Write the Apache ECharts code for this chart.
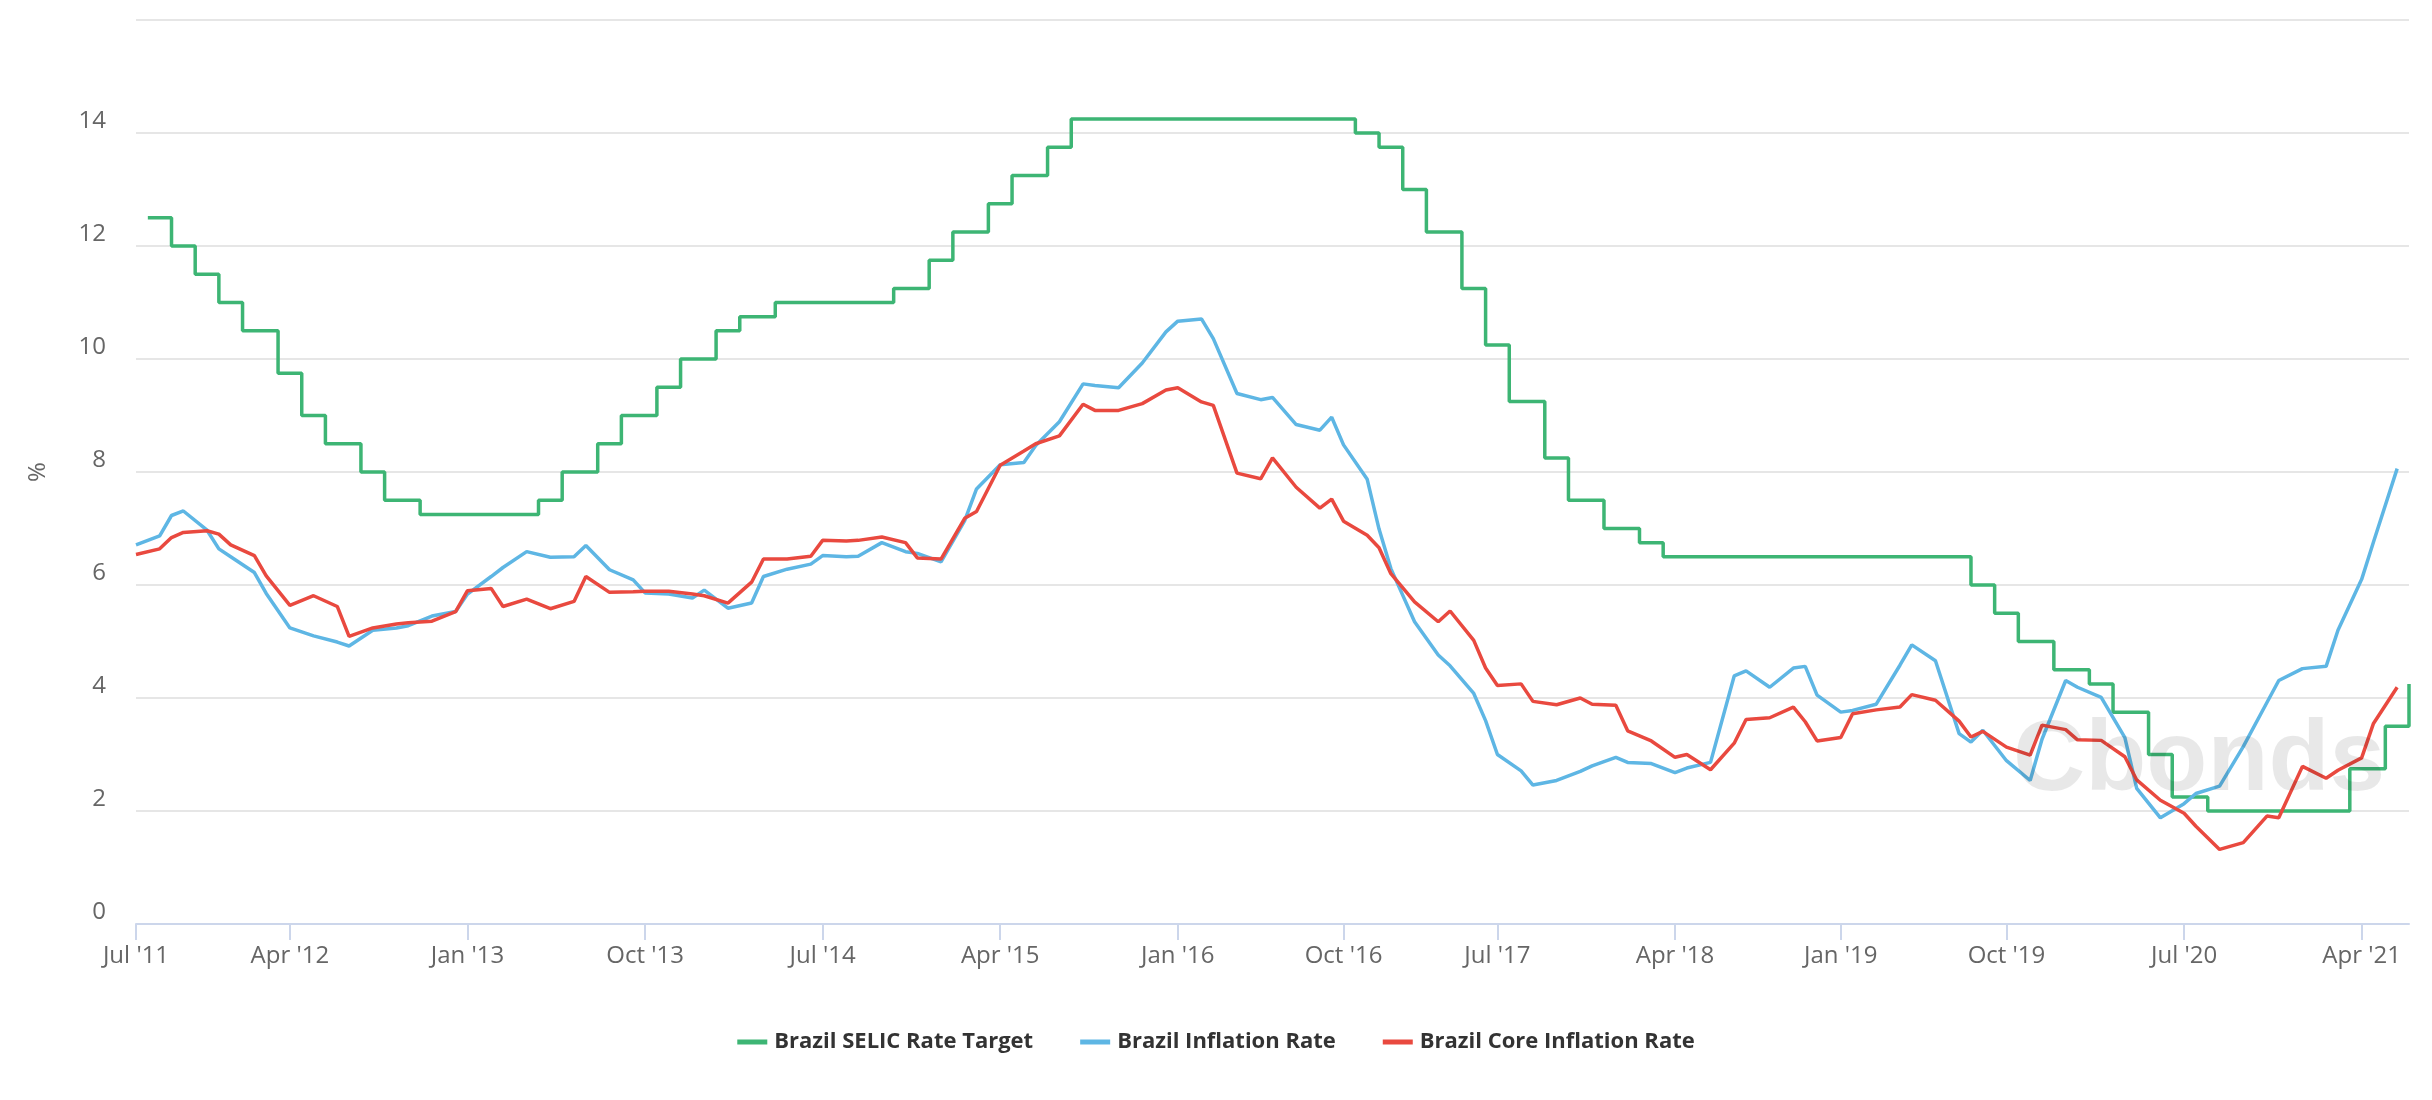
<!DOCTYPE html>
<html>
<head>
<meta charset="utf-8">
<script src="https://cdn.jsdelivr.net/npm/echarts@6/dist/echarts.min.js"></script>
<style>
html,body{margin:0;padding:0;background:#fff;}
#chart{width:2432px;height:1100px;}
</style>
</head>
<body>
<div id="chart"></div>
<script>
// ---- DATA ----
// Monthly series start with June 2011; each month's value is dated at the month end.
const monthStart = [2011, 6];

const inflation = [
  6.71, 6.87, 7.23, 7.31, 6.97, 6.64, 6.50,
  6.22, 5.85, 5.24, 5.10, 4.99, 4.92, 5.20, 5.24, 5.28, 5.45, 5.53, 5.84,
  6.15, 6.31, 6.59, 6.49, 6.50, 6.70, 6.27, 6.09, 5.86, 5.84, 5.77, 5.91,
  5.59, 5.68, 6.15, 6.28, 6.37, 6.52, 6.50, 6.51, 6.75, 6.59, 6.56, 6.41,
  7.14, 7.70, 8.13, 8.17, 8.47, 8.89, 9.56, 9.53, 9.49, 9.93, 10.48, 10.67,
  10.71, 10.36, 9.39, 9.28, 9.32, 8.84, 8.74, 8.97, 8.48, 7.87, 6.99, 6.29,
  5.35, 4.76, 4.57, 4.08, 3.60, 3.00, 2.71, 2.46, 2.54, 2.70, 2.80, 2.95,
  2.86, 2.84, 2.68, 2.76, 2.86, 4.39, 4.48, 4.19, 4.53, 4.56, 4.05, 3.75,
  3.78, 3.89, 4.58, 4.94, 4.66, 3.37, 3.22, 3.43, 2.89, 2.54, 3.27, 4.31,
  4.19, 4.01, 3.30, 2.40, 1.88, 2.13, 2.31, 2.44, 3.14, 3.92, 4.31, 4.52,
  4.56, 5.20, 6.10, 6.76, 8.06
];

const coreInflation = [
  6.54, 6.64, 6.84, 6.93, 6.96, 6.90, 6.71,
  6.52, 6.16, 5.64, 5.81, 5.62, 5.09, 5.24, 5.31, 5.33, 5.36, 5.53, 5.90,
  5.94, 5.62, 5.75, 5.58, 5.71, 6.15, 5.87, 5.88, 5.89, 5.89, 5.84, 5.81,
  5.68, 6.05, 6.46, 6.46, 6.51, 6.79, 6.78, 6.79, 6.85, 6.75, 6.48, 6.46,
  7.18, 7.30, 8.12, 8.37, 8.50, 8.64, 9.20, 9.09, 9.09, 9.21, 9.45, 9.49,
  9.24, 9.18, 7.98, 7.88, 8.25, 7.73, 7.36, 7.52, 7.13, 6.88, 6.66, 6.20,
  5.70, 5.35, 5.54, 5.02, 4.53, 4.22, 4.25, 3.94, 3.88, 4.00, 3.89, 3.87,
  3.42, 3.24, 2.95, 3.00, 2.73, 3.20, 3.62, 3.65, 3.84, 3.58, 3.24, 3.30,
  3.72, 3.79, 3.84, 4.06, 3.96, 3.59, 3.31, 3.41, 3.13, 2.99, 3.52, 3.44,
  3.26, 3.25, 2.96, 2.55, 2.19, 1.96, 1.73, 1.32, 1.44, 1.91, 1.88, 2.79,
  2.58, 2.72, 2.94, 3.55, 4.19
];

const selicDates = [
  '2011-07-20','2011-08-31','2011-10-19','2011-11-30',
  '2012-01-18','2012-03-07','2012-04-18','2012-05-30','2012-07-11','2012-08-29','2012-10-10','2012-11-28',
  '2013-01-16','2013-03-06','2013-04-17','2013-05-29','2013-07-10','2013-08-28','2013-10-09','2013-11-27',
  '2014-01-15','2014-02-26','2014-04-02','2014-05-28','2014-07-16','2014-09-03','2014-10-29','2014-12-03',
  '2015-01-21','2015-03-04','2015-04-29','2015-06-03','2015-07-29','2015-09-02','2015-10-21','2015-11-25',
  '2016-01-20','2016-03-02','2016-04-27','2016-06-08','2016-07-20','2016-08-31','2016-10-19','2016-11-30',
  '2017-01-11','2017-02-22','2017-04-12','2017-05-31','2017-07-26','2017-09-06','2017-10-25','2017-12-06',
  '2018-02-07','2018-03-21','2018-05-16','2018-06-20','2018-08-01','2018-09-19','2018-10-31','2018-12-12',
  '2019-02-06','2019-03-20','2019-05-08','2019-06-19','2019-07-31','2019-09-18','2019-10-30','2019-12-11',
  '2020-02-05','2020-03-18','2020-05-06','2020-06-17','2020-08-05','2020-09-16','2020-10-28','2020-12-09',
  '2021-01-20','2021-03-17','2021-05-05','2021-06-16'
];
const selicRates = [
  12.50, 12.00, 11.50, 11.00,
  10.50, 9.75, 9.00, 8.50, 8.00, 7.50, 7.25, 7.25,
  7.25, 7.25, 7.50, 8.00, 8.50, 9.00, 9.50, 10.00,
  10.50, 10.75, 11.00, 11.00, 11.00, 11.00, 11.25, 11.75,
  12.25, 12.75, 13.25, 13.75, 14.25, 14.25, 14.25, 14.25,
  14.25, 14.25, 14.25, 14.25, 14.25, 14.25, 14.00, 13.75,
  13.00, 12.25, 11.25, 10.25, 9.25, 8.25, 7.50, 7.00,
  6.75, 6.50, 6.50, 6.50, 6.50, 6.50, 6.50, 6.50,
  6.50, 6.50, 6.50, 6.50, 6.00, 5.50, 5.00, 4.50,
  4.25, 3.75, 3.00, 2.25, 2.00, 2.00, 2.00, 2.00,
  2.00, 2.75, 3.50, 4.25
];

// x-axis ticks (placed at the last data date before each labelled month start)
const tickDates = ['2011-06-30','2012-03-31','2012-12-31','2013-09-30','2014-06-30','2015-03-31','2015-12-31',
  '2016-09-30','2017-06-30','2018-03-31','2018-12-31','2019-09-30','2020-06-30','2021-03-31'];
const tickLabels = ["Jul '11","Apr '12","Jan '13","Oct '13","Jul '14","Apr '15","Jan '16",
  "Oct '16","Jul '17","Apr '18","Jan '19","Oct '19","Jul '20","Apr '21"];

// ---- BUILD ----
function monthEndStr(y, m) {
  const d = new Date(Date.UTC(y, m, 0)).getUTCDate();
  return y + '-' + String(m).padStart(2, '0') + '-' + String(d).padStart(2, '0');
}
const monthDates = inflation.map((_, i) => {
  const t = monthStart[0] * 12 + (monthStart[1] - 1) + i;
  return monthEndStr(Math.floor(t / 12), (t % 12) + 1);
});
// ordinal axis: every distinct date gets an equal slot
const categories = Array.from(new Set(monthDates.concat(selicDates))).sort();
const tickMap = {};
tickDates.forEach((d, i) => { tickMap[d] = tickLabels[i]; });
const isTick = (idx, v) => Object.prototype.hasOwnProperty.call(tickMap, v);

const FONT = "'Open Sans', 'Noto Sans', sans-serif";
const chart = echarts.init(document.getElementById('chart'), null, {renderer: 'canvas'});
chart.setOption({
  animation: false,
  backgroundColor: '#ffffff',
  grid: {left: 136, right: 23, top: 20, bottom: 176},
  legend: {
    top: 1026, left: 'center',
    itemGap: 47, itemWidth: 30, itemHeight: 5, icon: 'rect',
    textStyle: {fontSize: 22, fontWeight: 'bold', color: '#333333', fontFamily: FONT, padding: [0, 0, 0, 2]},
    data: ['Brazil SELIC Rate Target', 'Brazil Inflation Rate', 'Brazil Core Inflation Rate']
  },
  xAxis: {
    type: 'category',
    data: categories,
    boundaryGap: false,
    axisLine: {lineStyle: {color: '#ccd6eb', width: 2}},
    axisTick: {interval: isTick, length: 16, lineStyle: {color: '#ccd6eb', width: 2}},
    axisLabel: {interval: isTick, formatter: v => tickMap[v] || '', color: '#666666', fontSize: 24, fontFamily: FONT, margin: 20},
    splitLine: {show: false}
  },
  yAxis: {
    type: 'value', min: 0, max: 16, interval: 2,
    name: '%', nameLocation: 'middle', nameRotate: 90, nameGap: 86,
    nameTextStyle: {color: '#666666', fontSize: 24, fontFamily: FONT},
    axisLine: {show: false}, axisTick: {show: false},
    axisLabel: {color: '#666666', fontSize: 24, fontFamily: FONT, margin: 30, verticalAlign: 'bottom',
      showMaxLabel: false, formatter: v => (v >= 16 ? '' : String(v))},
    splitLine: {lineStyle: {color: '#e6e6e6', width: 2}}
  },
  series: [
    {
      name: 'Brazil SELIC Rate Target', type: 'line', step: 'end',
      data: selicDates.map((d, i) => [d, selicRates[i]]),
      showSymbol: false, color: '#3db574',
      lineStyle: {width: 3.5, color: '#3db574'}, itemStyle: {color: '#3db574'}
    },
    {
      name: 'Brazil Inflation Rate', type: 'line',
      data: monthDates.map((d, i) => [d, inflation[i]]),
      showSymbol: false, color: '#5eb6e4',
      lineStyle: {width: 3.5, color: '#5eb6e4'}, itemStyle: {color: '#5eb6e4'}
    },
    {
      name: 'Brazil Core Inflation Rate', type: 'line',
      data: monthDates.map((d, i) => [d, coreInflation[i]]),
      showSymbol: false, color: '#e9493f',
      lineStyle: {width: 3.5, color: '#e9493f'}, itemStyle: {color: '#e9493f'}
    }
  ],
  graphic: [{
    type: 'text', left: 2013, top: 712, silent: true, z: 100,
    style: {text: 'Cbonds', font: "bold 100px 'Liberation Sans', Arial, sans-serif", fill: 'rgba(0,0,0,0.09)'}
  }]
});
</script>
</body>
</html>
